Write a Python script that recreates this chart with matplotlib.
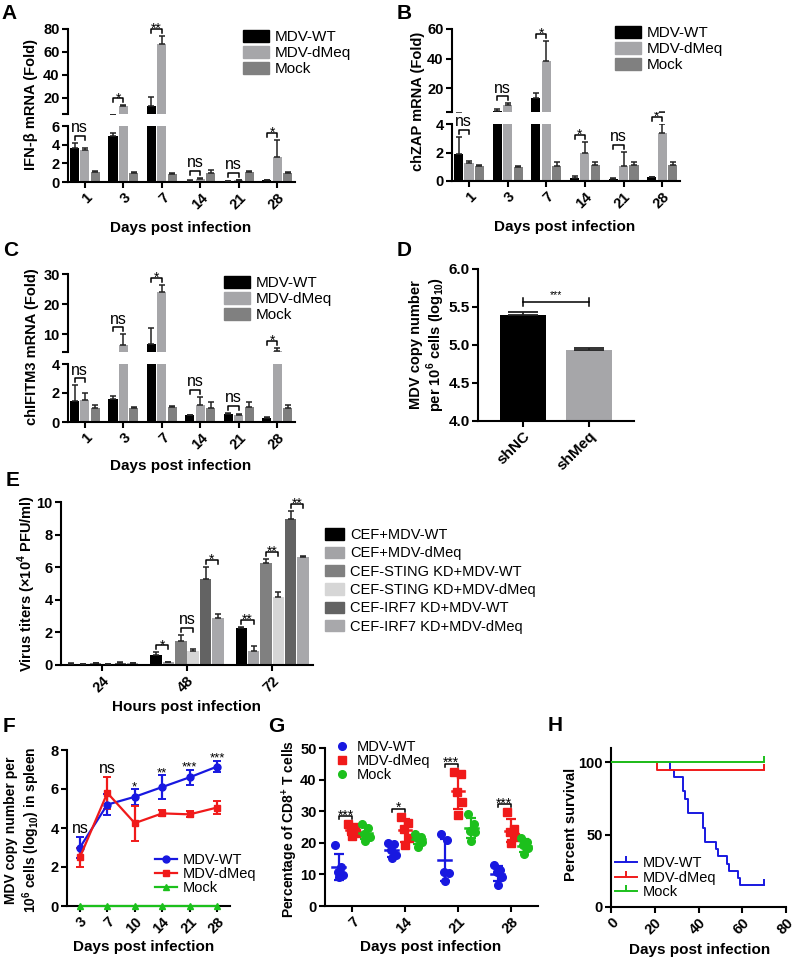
import numpy as np
import matplotlib
matplotlib.use("Agg")
import matplotlib.pyplot as plt
from matplotlib.patches import Patch
from matplotlib.lines import Line2D
from matplotlib.markers import TICKUP

plt.rcParams['font.family'] = ['Liberation Sans', 'DejaVu Sans']
plt.rcParams['font.weight'] = 'bold'
plt.rcParams['mathtext.fontset'] = 'custom'
plt.rcParams['mathtext.rm'] = 'Liberation Sans'
plt.rcParams['mathtext.bf'] = 'Liberation Sans:bold'

# ---- data: panels A-C (fold change, days post infection) ----
days = ['1', '3', '7', '14', '21', '28']
groups3 = ['MDV-WT', 'MDV-dMeq', 'Mock']

ifnb_wt = [3.6, 4.9, 12.8, 0.15, 0.12, 0.2]
ifnb_wt_err = [0.6, 0.4, 7.6, 0.05, 0.03, 0.05]
ifnb_dmeq = [3.4, 12.6, 67.0, 0.35, 0.2, 2.7]
ifnb_dmeq_err = [0.25, 0.8, 7.0, 0.1, 0.05, 1.8]
ifnb_mock = [1.1, 1.0, 0.9, 1.0, 1.1, 1.0]
ifnb_mock_err = [0.1, 0.05, 0.05, 0.25, 0.1, 0.05]
ifnb_sig = ['ns', '*', '**', 'ns', 'ns', '*']

zap_wt = [1.9, 4.6, 13.3, 0.22, 0.15, 0.25]
zap_wt_err = [1.2, 1.5, 3.5, 0.1, 0.03, 0.05]
zap_dmeq = [1.25, 8.5, 38.5, 2.0, 1.05, 3.35]
zap_dmeq_err = [0.15, 1.5, 13.5, 0.75, 1.0, 0.65]
zap_mock = [1.05, 0.95, 1.05, 1.1, 1.1, 1.1]
zap_mock_err = [0.1, 0.1, 0.3, 0.2, 0.2, 0.2]
zap_sig = ['ns', 'ns', '*', '*', 'ns', '*']

ifitm_wt = [1.45, 1.6, 6.8, 0.45, 0.55, 0.3]
ifitm_wt_err = [1.1, 0.2, 5.1, 0.05, 0.1, 0.02]
ifitm_dmeq = [1.5, 6.5, 24.0, 1.15, 0.5, 4.3]
ifitm_dmeq_err = [0.5, 3.4, 2.5, 0.6, 0.05, 1.2]
ifitm_mock = [1.0, 1.0, 1.05, 1.0, 1.05, 1.0]
ifitm_mock_err = [0.2, 0.05, 0.05, 0.4, 0.35, 0.2]
ifitm_sig = ['ns', 'ns', '*', 'ns', 'ns', '*']

# ---- panel D ----
d_groups = ['shNC', 'shMeq']
d_vals = [5.40, 4.93]
d_errs = [0.04, 0.03]

# ---- panel E (virus titers) ----
hours = ['24', '48', '72']
e_labels = ['CEF+MDV-WT', 'CEF+MDV-dMeq', 'CEF-STING KD+MDV-WT',
            'CEF-STING KD+MDV-dMeq', 'CEF-IRF7 KD+MDV-WT', 'CEF-IRF7 KD+MDV-dMeq']
e_cef_wt = [0.08, 0.62, 2.25]
e_cef_wt_err = [0.02, 0.15, 0.1]
e_cef_dmeq = [0.07, 0.18, 0.85]
e_cef_dmeq_err = [0.01, 0.03, 0.3]
e_sting_wt = [0.1, 1.5, 6.25]
e_sting_wt_err = [0.02, 0.35, 0.25]
e_sting_dmeq = [0.08, 0.85, 4.2]
e_sting_dmeq_err = [0.01, 0.15, 0.3]
e_irf7_wt = [0.15, 5.3, 8.95]
e_irf7_wt_err = [0.03, 0.7, 0.5]
e_irf7_dmeq = [0.12, 2.9, 6.6]
e_irf7_dmeq_err = [0.02, 0.25, 0.1]
e_sig_48 = ['*', 'ns', '*']
e_sig_72 = ['**', '**', '**']

# ---- panel F (spleen copy number) ----
f_days = ['3', '7', '10', '14', '21', '28']
f_wt = [3.0, 5.2, 5.6, 6.1, 6.6, 7.15]
f_wt_err = [0.55, 0.55, 0.4, 0.6, 0.4, 0.3]
f_dmeq = [2.5, 5.8, 4.25, 4.75, 4.7, 5.05]
f_dmeq_err = [0.5, 0.8, 0.9, 0.15, 0.15, 0.35]
f_mock = [0, 0, 0, 0, 0, 0]
f_sig = ['ns', 'ns', '*', '**', '***', '***']

# ---- panel G (CD8+ T cells, 5 birds per group) ----
g_days = ['7', '14', '21', '28']
g_wt = [[19.3, 12.4, 10.9, 9.8, 9.1],
        [19.8, 19.5, 17.7, 16.2, 15.1],
        [22.8, 20.9, 10.9, 10.3, 7.9],
        [13.0, 11.4, 10.9, 9.3, 6.6]]
g_dmeq = [[25.9, 25.0, 24.0, 23.0, 22.0],
          [28.3, 26.2, 24.3, 21.4, 19.3],
          [42.5, 41.8, 36.2, 33.0, 28.8],
          [29.6, 24.3, 23.5, 21.9, 20.0]]
g_mock = [[25.9, 24.8, 22.9, 21.9, 20.6],
          [22.8, 21.9, 21.4, 20.4, 18.8],
          [29.1, 25.9, 23.8, 23.5, 20.7],
          [21.4, 20.4, 19.3, 18.2, 16.4]]
g_sig = ['***', '*', '***', '***']

# ---- panel H (survival) ----
h_wt_days = [0, 27, 29, 33, 34, 35, 42, 43, 48, 49, 53, 54, 58, 59, 70]
h_wt_surv = [100, 95, 90, 80, 75, 65, 55, 45, 40, 35, 30, 25, 20, 15, 15]
h_dmeq_days = [0, 21, 70]
h_dmeq_surv = [100, 95, 95]
h_mock_days = [0, 70]
h_mock_surv = [100, 100]

# colours
C_WT, C_DMEQ, C_MOCK = '#000000', '#A6A6A9', '#808080'
E_COLORS = ['#000000', '#A3A3A6', '#808080', '#D6D6D6', '#636363', '#A8A8AB']
BLUE, RED, GREEN = '#1818E0', '#F01A1A', '#1CC01C'

TICK_FS = 10.5
YLAB_FS = 10.5
XLAB_FS = 11

W, H = 797, 960
fig = plt.figure(figsize=(W / 100, H / 100), dpi=100)


def box(x0, y0, x1, y1):
    return [x0 / W, 1 - y1 / H, (x1 - x0) / W, (y1 - y0) / H]


def fxy(x, y):
    return x / W, 1 - y / H


def px2data(ax, n):
    lo, hi = ax.get_ylim()
    return n * (hi - lo) / ax.bbox.height


def style(ax, bottom=True):
    for s in ['top', 'right']:
        ax.spines[s].set_visible(False)
    for s in ['left', 'bottom']:
        ax.spines[s].set_linewidth(1.5)
    ax.tick_params(width=1.5, length=4, labelsize=TICK_FS, pad=2)
    if not bottom:
        ax.spines['bottom'].set_visible(False)
        ax.tick_params(axis='x', bottom=False, labelbottom=False)


def bracket(ax, x1, x2, y, label, drop=4):
    d = px2data(ax, drop)
    ax.plot([x1, x1, x2, x2], [y - d, y, y, y - d], color='black', lw=1.1, clip_on=False)
    if label == 'ns':
        ax.text((x1 + x2) / 2, y + px2data(ax, 0.5), label, ha='center', va='bottom',
                fontsize=11.5, fontweight='normal')
    else:
        ax.text((x1 + x2) / 2, y - px2data(ax, 4), label, ha='center', va='baseline',
                fontsize=10, fontweight='normal')


def legend(handles, labels, x, y, size=11, **kw):
    opts = dict(loc='upper left', bbox_to_anchor=fxy(x, y), frameon=False, borderpad=0,
                borderaxespad=0, handletextpad=0.4, labelspacing=0.1,
                prop={'size': size, 'weight': 'normal'})
    opts.update(kw)
    fig.legend(handles, labels, **opts)


def broken_panel(lo_box, hi_box, lo_max, hi_lim, lo_ticks, hi_ticks, series, sig, ylabel, ylab_xy, xlab_xy):
    ax_lo = fig.add_axes(box(*lo_box))
    ax_hi = fig.add_axes(box(*hi_box))
    x = np.arange(len(days))
    step, width = 0.27, 0.235
    offs = [-step, 0, step]
    colors = [C_WT, C_DMEQ, C_MOCK]
    for ax in (ax_lo, ax_hi):
        for k, (vals, errs) in enumerate(series):
            ax.bar(x + offs[k], vals, width, color=colors[k], zorder=2)
            ax.errorbar(x + offs[k], vals, yerr=[np.zeros(len(vals)), errs], fmt='none',
                        ecolor='#222222', elinewidth=1.1, capsize=2.5, capthick=1.1, zorder=3)
        ax.set_xlim(-0.44, 5.46)
    ax_lo.set_ylim(0, lo_max)
    ax_hi.set_ylim(*hi_lim)
    ax_lo.set_yticks(lo_ticks)
    ax_hi.set_yticks([hi_lim[0]] + hi_ticks, [''] + [str(t) for t in hi_ticks])
    style(ax_lo)
    style(ax_hi, bottom=False)
    ax_lo.set_xticks(x, days, rotation=45, ha='right', rotation_mode='anchor')
    wt, wt_e = series[0]
    dm, dm_e = series[1]
    for i, lab in enumerate(sig):
        top = max(wt[i] + wt_e[i], dm[i] + dm_e[i])
        if top <= lo_max:
            ax, y = ax_lo, top + px2data(ax_lo, 7)
        else:
            ax, y = ax_hi, max(top, hi_lim[0]) + px2data(ax_hi, 7)
        bracket(ax, i + offs[0], i + offs[1], y, lab)
    fig.text(*fxy(*ylab_xy), ylabel, rotation=90, ha='center', va='center', fontsize=YLAB_FS)
    fig.text(*fxy(*xlab_xy), 'Days post infection', ha='center', va='center', fontsize=XLAB_FS)


# ---- A ----
broken_panel((68, 126, 295, 182), (68, 29, 295, 114), 6, (6, 80), [0, 2, 4, 6], [20, 40, 60, 80],
             [(ifnb_wt, ifnb_wt_err), (ifnb_dmeq, ifnb_dmeq_err), (ifnb_mock, ifnb_mock_err)],
             ifnb_sig, 'IFN-β mRNA (Fold)', (31, 105), (181, 228))
bar_handles = [Patch(color=c) for c in (C_WT, C_DMEQ, C_MOCK)]
legend(bar_handles, groups3, 243, 30, handlelength=1.7, handleheight=0.85)

# ---- B ----
broken_panel((452, 124, 680, 181), (452, 29, 680, 112), 4, (4, 60), [0, 2, 4], [20, 40, 60],
             [(zap_wt, zap_wt_err), (zap_dmeq, zap_dmeq_err), (zap_mock, zap_mock_err)],
             zap_sig, 'chZAP mRNA (Fold)', (418, 101), (565, 227))
legend(bar_handles, groups3, 615, 26, handlelength=1.7, handleheight=0.85)

# ---- C ----
broken_panel((68, 364, 295, 422), (68, 274, 295, 352), 4, (4, 30), [0, 2, 4], [10, 20, 30],
             [(ifitm_wt, ifitm_wt_err), (ifitm_dmeq, ifitm_dmeq_err), (ifitm_mock, ifitm_mock_err)],
             ifitm_sig, 'chIFITM3 mRNA (Fold)', (32, 347), (181, 466))
legend(bar_handles, groups3, 224, 276, handlelength=1.7, handleheight=0.85)

# ---- D ----
ax = fig.add_axes(box(478, 269, 634, 421))
xd = np.arange(len(d_groups))
ax.bar(xd, d_vals, 0.7, color=[C_WT, C_DMEQ], zorder=2)
ax.errorbar(xd, d_vals, yerr=[np.zeros(2), d_errs], fmt='none', ecolor='#222222',
            elinewidth=1.3, capsize=11, capthick=1.3, zorder=3)
ax.set_ylim(4.0, 6.0)
ax.set_xlim(-0.68, 1.68)
ax.set_yticks([4.0, 4.5, 5.0, 5.5, 6.0], ['4.0', '4.5', '5.0', '5.5', '6.0'])
ax.set_xticks(xd, d_groups, rotation=45, ha='right', rotation_mode='anchor')
style(ax)
ax.tick_params(labelsize=11)
yb = max(v + e for v, e in zip(d_vals, d_errs)) + px2data(ax, 10)
tk = px2data(ax, 4)
ax.plot([0, 1], [yb, yb], color='black', lw=1.1)
ax.plot([0, 0], [yb - tk, yb + tk], color='black', lw=1.1)
ax.plot([1, 1], [yb - tk, yb + tk], color='black', lw=1.1)
ax.text(0.5, yb + px2data(ax, 1), '***', ha='center', va='bottom', fontsize=7.5, fontweight='normal')
fig.text(*fxy(428, 345), 'MDV copy number\nper 10$^\\mathbf{6}$ cells (log$_\\mathbf{10}$)',
         rotation=90, ha='center', va='center', fontsize=YLAB_FS, linespacing=1.1)

# ---- E ----
ax = fig.add_axes(box(61, 502, 313, 665))
xe = np.arange(len(hours))
e_series = [(e_cef_wt, e_cef_wt_err), (e_cef_dmeq, e_cef_dmeq_err),
            (e_sting_wt, e_sting_wt_err), (e_sting_dmeq, e_sting_dmeq_err),
            (e_irf7_wt, e_irf7_wt_err), (e_irf7_dmeq, e_irf7_dmeq_err)]
e_offs = (np.arange(6) - 2.5) * 0.145
for k, (vals, errs) in enumerate(e_series):
    ax.bar(xe + e_offs[k], vals, 0.135, color=E_COLORS[k], zorder=2)
    ax.errorbar(xe + e_offs[k], vals, yerr=[np.zeros(3), errs], fmt='none', ecolor='#222222',
                elinewidth=1.1, capsize=2.2, capthick=1.1, zorder=3)
ax.set_xlim(-0.48, 2.48)
ax.set_ylim(0, 10)
ax.set_yticks([0, 2, 4, 6, 8, 10])
ax.set_xticks(xe, hours, rotation=45, ha='right', rotation_mode='anchor')
style(ax)
for gi, sigs in ((1, e_sig_48), (2, e_sig_72)):
    for p, lab in enumerate(sigs):
        a, b = 2 * p, 2 * p + 1
        top = max(e_series[a][0][gi] + e_series[a][1][gi], e_series[b][0][gi] + e_series[b][1][gi])
        bracket(ax, gi + e_offs[a], gi + e_offs[b], top + px2data(ax, 7), lab)
fig.text(*fxy(27, 583), 'Virus titers (×10$^\\mathbf{4}$ PFU/ml)', rotation=90, ha='center',
         va='center', fontsize=YLAB_FS)
fig.text(*fxy(187, 707), 'Hours post infection', ha='center', va='center', fontsize=XLAB_FS)
legend([Patch(color=c) for c in E_COLORS], e_labels, 325, 528, size=10.5,
       handlelength=1.3, handleheight=0.8, labelspacing=0.3)

# ---- F ----
ax = fig.add_axes(box(67, 750, 230, 906))
xf = np.arange(len(f_days))
ax.errorbar(xf, f_wt, yerr=f_wt_err, color=BLUE, marker='o', ms=5, lw=1.6, capsize=3,
            capthick=1.4, zorder=3)
ax.errorbar(xf, f_dmeq, yerr=f_dmeq_err, color=RED, marker='s', ms=5, lw=1.6, capsize=3,
            capthick=1.4, zorder=3)
ax.plot(xf, f_mock, color=GREEN, marker='^', ms=4.5, lw=1.6, zorder=4, clip_on=False)
ax.set_xlim(-0.47, 5.47)
ax.set_ylim(0, 8)
ax.set_yticks([0, 2, 4, 6, 8])
ax.set_xticks(xf, f_days, rotation=45, ha='right', rotation_mode='anchor')
style(ax)
for i, lab in enumerate(f_sig):
    top = max(f_wt[i] + f_wt_err[i], f_dmeq[i] + f_dmeq_err[i])
    if lab == 'ns':
        ax.text(i, top + px2data(ax, 1), lab, ha='center', va='bottom', fontsize=11.5, fontweight='normal')
    else:
        ax.text(i, top - px2data(ax, 1), lab, ha='center', va='baseline', fontsize=9.5, fontweight='normal')
fig.text(*fxy(23, 830), 'MDV copy number per\n10$^\\mathbf{6}$ cells (log$_\\mathbf{10}$) in spleen',
         rotation=90, ha='center', va='center', fontsize=10, linespacing=1.1)
fig.text(*fxy(144, 947), 'Days post infection', ha='center', va='center', fontsize=XLAB_FS)
legend([Line2D([], [], color=BLUE, marker='o', ms=5, lw=1.6),
        Line2D([], [], color=RED, marker='s', ms=5, lw=1.6),
        Line2D([], [], color=GREEN, marker='^', ms=4.5, lw=1.6)],
       groups3, 155, 853, size=10.5, handlelength=1.5, labelspacing=0.0)

# ---- G ----
ax = fig.add_axes(box(325, 748, 538, 906))
jit = np.array([-0.07, 0.05, -0.02, 0.08, 0.0])
g_offs = [-0.25, 0, 0.25]
for k, (pts, col, mk) in enumerate(((g_wt, BLUE, 'o'), (g_dmeq, RED, 's'), (g_mock, GREEN, 'o'))):
    for i, p in enumerate(pts):
        xc = i + g_offs[k]
        ax.plot(xc + jit, p, ls='none', marker=mk, ms=5.5, color=col, zorder=3)
        m, sd = np.mean(p), np.std(p, ddof=1)
        ax.plot([xc - 0.12, xc + 0.12], [m, m], color=col, lw=1.8, zorder=4)
        ax.errorbar(xc, m, yerr=sd, fmt='none', ecolor=col, elinewidth=1.6, capsize=3.5,
                    capthick=1.6, zorder=4)
for i, lab in enumerate(g_sig):
    top = max(max(g_wt[i]), max(g_dmeq[i]))
    bracket(ax, i + g_offs[0], i + g_offs[1], top + px2data(ax, 10), lab)
ax.set_xlim(-0.51, 3.51)
ax.set_ylim(0, 50)
ax.set_yticks([0, 10, 20, 30, 40, 50])
ax.set_xticks(np.arange(len(g_days)), g_days, rotation=45, ha='right', rotation_mode='anchor')
style(ax)
fig.text(*fxy(290, 829), 'Percentage of CD8$^\\mathbf{+}$ T cells', rotation=90, ha='center',
         va='center', fontsize=10)
fig.text(*fxy(431, 947), 'Days post infection', ha='center', va='center', fontsize=XLAB_FS)
legend([Line2D([], [], ls='none', marker='o', ms=5.5, color=BLUE),
        Line2D([], [], ls='none', marker='s', ms=5.5, color=RED),
        Line2D([], [], ls='none', marker='o', ms=5.5, color=GREEN)],
       groups3, 333, 740, size=10.5, handlelength=1.2, labelspacing=0.0)

# ---- H ----
ax = fig.add_axes(box(611, 748, 786, 907))
for dd, ss, col in ((h_wt_days, h_wt_surv, BLUE), (h_dmeq_days, h_dmeq_surv, RED),
                    (h_mock_days, h_mock_surv, GREEN)):
    ax.step(dd, ss, where='post', color=col, lw=1.4, zorder=3)
    ax.plot(dd[-1], ss[-1], marker=TICKUP, ms=4, mew=1.4, color=col, zorder=3)
ax.set_xlim(0, 80)
ax.set_ylim(0, 110)
ax.set_yticks([0, 50, 100])
ax.set_xticks([0, 20, 40, 60, 80])
ax.set_xticklabels(['0', '20', '40', '60', '80'], rotation=45, ha='right', rotation_mode='anchor')
style(ax)
fig.text(*fxy(571, 824), 'Percent survival', rotation=90, ha='center', va='center', fontsize=YLAB_FS)
fig.text(*fxy(700, 950), 'Days post infection', ha='center', va='center', fontsize=XLAB_FS)
legend([Line2D([], [], color=c, lw=1.4, marker=TICKUP, ms=4, mew=1.4) for c in (BLUE, RED, GREEN)],
       groups3, 615, 856, size=10.5, handlelength=1.5, labelspacing=0.05)

# ---- panel letters ----
for letter, (lx, ly) in zip('ABCDEFGH', [(1, 4), (397, 4), (3, 241), (397, 241), (6, 471),
                                        (3, 717), (268, 717), (548, 716)]):
    fig.text(*fxy(lx, ly), letter, ha='left', va='top', fontsize=15)

fig.savefig('out.png', dpi=100)
